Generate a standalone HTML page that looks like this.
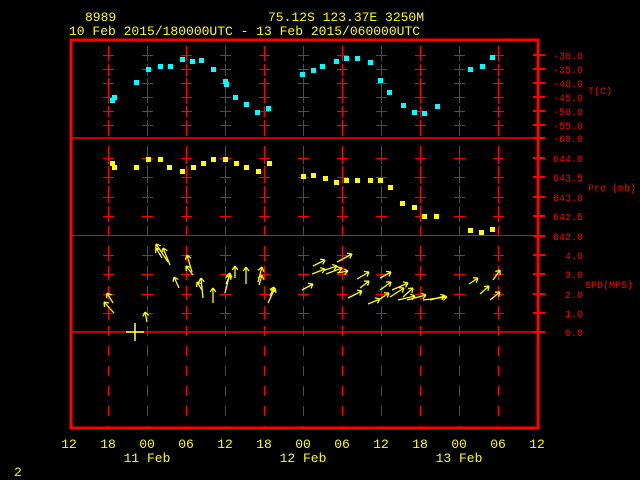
<!DOCTYPE html>
<html><head><style>
html,body{margin:0;padding:0;background:#000;}
svg{display:block;}
text{font-family:"Liberation Mono",monospace;}
</style></head><body>
<svg id="s" width="640" height="480" viewBox="0 0 640 480" xmlns="http://www.w3.org/2000/svg">
<rect width="640" height="480" fill="#000"/>
<g fill="#ffff00" font-size="13">
<text x="85" y="21">8989</text>
<text x="268" y="21">75.12S  123.37E  3250M</text>
<text x="69" y="35">10 Feb 2015/180000UTC - 13 Feb 2015/060000UTC</text>
<text x="69" y="448" text-anchor="middle">12</text>
<text x="108" y="448" text-anchor="middle">18</text>
<text x="147" y="448" text-anchor="middle">00</text>
<text x="186" y="448" text-anchor="middle">06</text>
<text x="225" y="448" text-anchor="middle">12</text>
<text x="264" y="448" text-anchor="middle">18</text>
<text x="303" y="448" text-anchor="middle">00</text>
<text x="342" y="448" text-anchor="middle">06</text>
<text x="381" y="448" text-anchor="middle">12</text>
<text x="420" y="448" text-anchor="middle">18</text>
<text x="459" y="448" text-anchor="middle">00</text>
<text x="498" y="448" text-anchor="middle">06</text>
<text x="537" y="448" text-anchor="middle">12</text>
<text x="147" y="462" text-anchor="middle">11 Feb</text>
<text x="303" y="462" text-anchor="middle">12 Feb</text>
<text x="459" y="462" text-anchor="middle">13 Feb</text>
<text x="14" y="476">2</text>
</g>
<g id="grid"></g>
<rect x="71" y="40" width="467" height="388" fill="none" stroke="#ff0000" stroke-width="3"/>
<line x1="71" y1="138" x2="538" y2="138" stroke="#ff0000" stroke-width="1.5"/>
<line x1="71" y1="235.5" x2="538" y2="235.5" stroke="#ff0000" stroke-width="1"/>
<line x1="71" y1="332" x2="538" y2="332" stroke="#ff0000" stroke-width="1.5"/>
<g id="data"></g>
<g fill="#ff0000" font-size="10" id="lab">
<text x="588" y="94">T(C)</text>
<text x="588" y="191">Pre (mb)</text>
<text x="585" y="288">SPD(MPS)</text>
</g>
</svg>
<script>
var NS="http://www.w3.org/2000/svg",g=document.getElementById("grid"),d=document.getElementById("data"),lab=document.getElementById("lab");
function el(p,t,a,txt){var e=document.createElementNS(NS,t);for(var k in a)e.setAttribute(k,a[k]);if(txt)e.textContent=txt;p.appendChild(e);return e;}
var rows=[55,69,83,97,111,125,158,177,197,216,255,274,294,313];
var xs=[108,147,186,225,264,303,342,381,420,459,498];
xs.forEach(function(x,i){
 var c="#ff0000";
 el(g,"line",{x1:x+.5,y1:46,x2:x+.5,y2:428,stroke:c,"stroke-width":1,"stroke-dasharray":"10,10"});
 rows.forEach(function(y){el(g,"line",{x1:x-5,y1:y+.5,x2:x+6,y2:y+.5,stroke:c,"stroke-width":1});
  el(g,"line",{x1:x+.5,y1:y-5,x2:x+.5,y2:y+6,stroke:c,"stroke-width":1});});
});
var labs=[[55,"-30.0"],[69,"-35.0"],[83,"-40.0"],[97,"-45.0"],[111,"-50.0"],[125,"-55.0"],[138,"-60.0"],[158,"644.0"],[177,"643.5"],[197,"643.0"],[216,"642.5"],[236,"642.0"],[255,"4.0"],[274,"3.0"],[294,"2.0"],[313,"1.0"],[332,"0.0"]];
labs.forEach(function(l){el(g,"line",{x1:533,y1:l[0],x2:545,y2:l[0],stroke:"#ff0000","stroke-width":2});
 el(lab,"text",{x:583,y:l[0]+4,"text-anchor":"end"},l[1]);});
var T=[[112,100],[114,97],[136,82],[148,69],[160,66],[170,66],[182,59],[192,61],[201,60],[213,69],[225,81],[226,84],[235,97],[246,104],[257,112],[268,108],[302,74],[313,70],[322,66],[336,61],[346,58],[357,58],[370,62],[380,80],[389,92],[403,105],[414,112],[424,113],[437,106],[470,69],[482,66],[492,57]];
T.forEach(function(p){el(d,"rect",{x:p[0]-2,y:p[1]-2,width:5,height:5,fill:"#00ffff"});});
var P=[[112,163],[114,167],[136,167],[148,159],[160,159],[169,167],[182,171],[193,167],[203,163],[213,159],[225,159],[236,163],[246,167],[258,171],[269,163],[303,176],[313,175],[325,178],[336,182],[346,180],[357,180],[370,180],[380,180],[390,187],[402,203],[414,207],[424,216],[436,216],[470,230],[481,232],[492,229]];
P.forEach(function(p){el(d,"rect",{x:p[0]-2,y:p[1]-2,width:5,height:5,fill:"#ffff00"});});
var W=[[113,303,107,293],[114,313,104,302],[147,322,145,312],[168,262,156,244],[162,258,156,248],[170,265,163,248],[179,288,174,277],[192,272,187,255],[193,275,186,266],[203,298,201,278],[202,290,197,282],[213,303,213,288],[225,293,230,273],[226,284,230,275],[235,278,235,266],[246,284,246,267],[258,282,262,267],[259,285,262,275],[268,303,275,288],[270,296,274,287],
[302,290,313,284],[313,266,325,260],[312,274,325,269],[326,274,342,268],[325,270,337,266],[337,262,352,254],[337,273,348,271],[357,279,369,272],[360,288,369,281],[380,290,391,282],[380,299,389,293],[348,298,362,291],[390,297,404,288],[392,290,408,283],[403,297,413,288],[380,278,391,272],[407,300,426,295],[423,300,447,297],[430,300,445,296],[469,284,478,278],[480,294,489,286],[490,300,500,292],[493,280,500,270],[368,304,380,299],[398,300,415,296]];
W.forEach(function(w){var dx=w[2]-w[0],dy=w[3]-w[1],L=Math.sqrt(dx*dx+dy*dy),ux=-dx/L,uy=-dy/L,h=5;
 var s="M"+w[0]+","+w[1]+"L"+w[2]+","+w[3];
 [Math.PI/5,-Math.PI/5].forEach(function(a){var c=Math.cos(a),sn=Math.sin(a);
  var rx=ux*c-uy*sn,ry=ux*sn+uy*c;
  s+="M"+w[2]+","+w[3]+"l"+(rx*h).toFixed(1)+","+(ry*h).toFixed(1);});
 el(d,"path",{d:s,stroke:"#ffff00","stroke-width":1.3,fill:"none"});});
el(d,"path",{d:"M126,332H144M135,323V341",stroke:"#ffff66","stroke-width":1.5});
</script>
</body></html>
